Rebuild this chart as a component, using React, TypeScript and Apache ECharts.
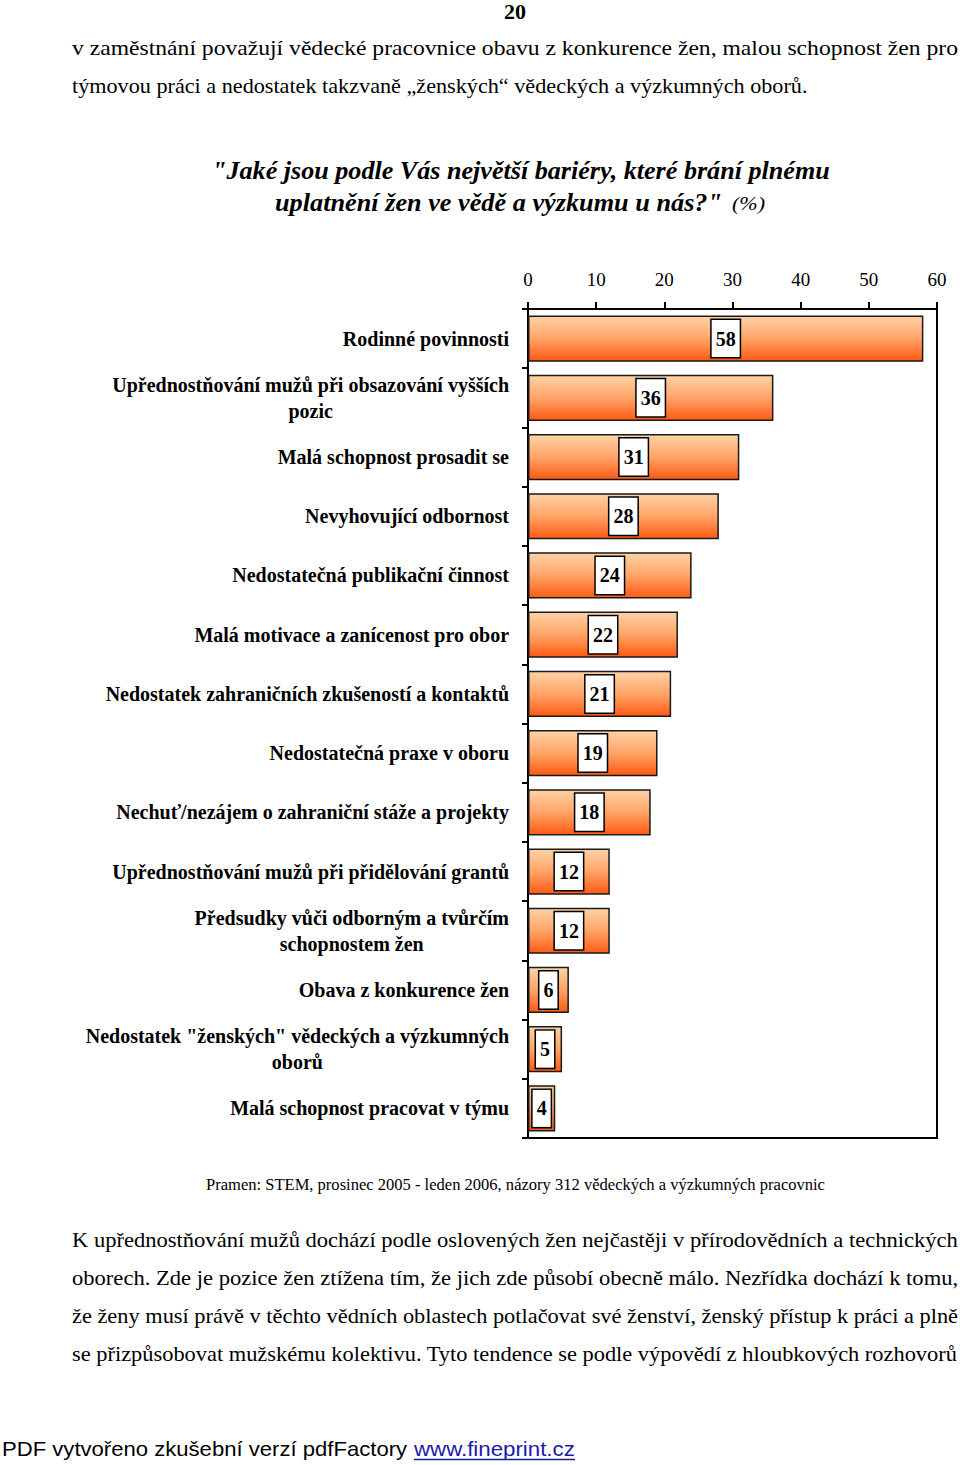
import React, { useEffect, useRef } from "react";
import * as echarts from "echarts";

const categories = [
  "Rodinné povinnosti",
  "Upřednostňování mužů při obsazování vyšších\npozic",
  "Malá schopnost prosadit se",
  "Nevyhovující odbornost",
  "Nedostatečná publikační činnost",
  "Malá motivace a zanícenost pro obor",
  "Nedostatek zahraničních zkušeností a kontaktů",
  "Nedostatečná praxe v oboru",
  "Nechuť/nezájem o zahraniční stáže a projekty",
  "Upřednostňování mužů při přidělování grantů",
  "Předsudky vůči odborným a tvůrčím\nschopnostem žen",
  "Obava z konkurence žen",
  "Nedostatek \"ženských\" vědeckých a výzkumných\noborů",
  "Malá schopnost pracovat v týmu",
];
const values = [58, 36, 31, 28, 24, 22, 21, 19, 18, 12, 12, 6, 5, 4];
const xTicks = [0, 10, 20, 30, 40, 50, 60];

const pageNumber = "20";
const introLines = [
  "v zaměstnání považují vědecké pracovnice obavu z konkurence žen, malou schopnost žen pro",
  "týmovou práci a nedostatek takzvaně „ženských“ vědeckých a výzkumných oborů.",
];
const titleLines = [
  "\"Jaké jsou podle Vás největší bariéry, které brání plnému",
  "uplatnění žen ve vědě a výzkumu u nás?\"",
];
const titleUnit = "(%)";
const sourceNote =
  "Pramen: STEM, prosinec 2005 - leden 2006, názory 312 vědeckých a výzkumných pracovnic";
const paragraphLines = [
  "K upřednostňování mužů dochází podle oslovených žen nejčastěji v přírodovědních a technických",
  "oborech. Zde je pozice žen ztížena tím, že jich zde působí obecně málo. Nezřídka dochází k tomu,",
  "že ženy musí právě v těchto vědních oblastech potlačovat své ženství, ženský přístup k práci a plně",
  "se přizpůsobovat mužskému kolektivu. Tyto tendence se podle výpovědí z hloubkových rozhovorů",
];
const footerText = "PDF vytvořeno zkušební verzí pdfFactory";
const footerLink = "www.fineprint.cz";

const SERIF = '"Liberation Serif", "Times New Roman", Times, serif';
const SANS = '"Liberation Sans", Arial, Helvetica, sans-serif';

let measureCtx: CanvasRenderingContext2D | null = null;
function measure(text: string, font: string): number {
  if (!measureCtx) {
    const c = document.createElement("canvas");
    measureCtx = c.getContext("2d");
  }
  if (!measureCtx) return 1;
  measureCtx.font = font;
  return measureCtx.measureText(text).width || 1;
}

type TOpts = {
  size: number;
  weight?: string;
  fstyle?: string;
  family?: string;
  width?: number;
  align?: "left" | "center" | "right";
  fill?: string;
};

function textEl(text: string, x: number, y: number, o: TOpts) {
  const font = `${o.fstyle || "normal"} ${o.weight || "normal"} ${o.size}px ${
    o.family || SERIF
  }`;
  let scaleX = 1;
  if (o.width) scaleX = o.width / measure(text, font);
  const align = o.align || "left";
  return {
    type: "text",
    x,
    y,
    scaleX,
    silent: true,
    style: {
      text,
      font,
      fill: o.fill || "#000",
      textAlign: align,
      align,
      textVerticalAlign: "middle",
      verticalAlign: "middle",
    },
  };
}

export default function App() {
  const ref = useRef<HTMLDivElement>(null);

  useEffect(() => {
    if (!ref.current) return;
    const chart = echarts.init(ref.current, null, { renderer: "svg" });

    const graphics: any[] = [];
    graphics.push(textEl(pageNumber, 515, 11, { size: 22, weight: "bold", align: "center" }));
    graphics.push(textEl(introLines[0], 72, 48, { size: 21, width: 886 }));
    graphics.push(textEl(introLines[1], 72, 86, { size: 21, width: 736 }));
    graphics.push(
      textEl(titleLines[0], 212, 171, { size: 26, weight: "bold", fstyle: "italic", width: 618 })
    );
    graphics.push(
      textEl(titleLines[1], 275, 203, { size: 26, weight: "bold", fstyle: "italic", width: 447 })
    );
    graphics.push(textEl(titleUnit, 732, 204, { size: 19, fstyle: "italic", width: 33 }));
    graphics.push(textEl(sourceNote, 206, 1184, { size: 17, width: 619 }));
    const paraY = [1240, 1278, 1316, 1354];
    paragraphLines.forEach((l, i) => {
      graphics.push(textEl(l, 72, paraY[i], { size: 21, width: 886 }));
    });
    graphics.push(textEl(footerText, 2, 1449, { size: 21, family: SANS, width: 405 }));
    graphics.push(
      textEl(footerLink, 414, 1449, { size: 21, family: SANS, width: 161, fill: "#1a1aa6" })
    );
    graphics.push({
      type: "line",
      silent: true,
      shape: { x1: 414, y1: 1459.5, x2: 575, y2: 1459.5 },
      style: { stroke: "#1a1aa6", lineWidth: 1.5 },
    });

    const barGradient = new echarts.graphic.LinearGradient(0, 0, 0, 1, [
      { offset: 0, color: "#FFD2A6" },
      { offset: 0.5, color: "#FFA468" },
      { offset: 1, color: "#FF5A12" },
    ]);

    chart.setOption({
      animation: false,
      backgroundColor: "#fff",
      grid: {
        left: 528,
        right: 23,
        top: 309,
        bottom: 327,
        show: true,
        borderColor: "#000",
        borderWidth: 2,
        backgroundColor: "transparent",
      },
      xAxis: {
        type: "value",
        position: "top",
        min: xTicks[0],
        max: xTicks[xTicks.length - 1],
        interval: xTicks[1] - xTicks[0],
        axisLine: { show: true, lineStyle: { color: "#000", width: 2 } },
        axisTick: { show: true, length: 7, lineStyle: { color: "#000", width: 2 } },
        splitLine: { show: false },
        axisLabel: {
          margin: 20,
          color: "#000",
          fontFamily: SERIF,
          fontSize: 19,
        },
      },
      yAxis: {
        type: "category",
        inverse: true,
        data: categories,
        axisLine: { show: true, lineStyle: { color: "#000", width: 2 } },
        axisTick: { show: true, length: 6, lineStyle: { color: "#000", width: 2 } },
        splitLine: { show: false },
        axisLabel: {
          margin: 19,
          color: "#000",
          fontFamily: SERIF,
          fontWeight: "bold",
          fontSize: 20,
          lineHeight: 26,
          formatter: (v: string) =>
            v
              .split("\n")
              .map((l) => `{c|${l}}`)
              .join("\n"),
          rich: {
            c: {
              align: "center",
              color: "#000",
              fontFamily: SERIF,
              fontWeight: "bold",
              fontSize: 20,
              lineHeight: 26,
            },
          },
        },
      },
      series: [
        {
          type: "bar",
          data: values,
          barCategoryGap: "22%",
          itemStyle: {
            color: barGradient,
            borderColor: "#1a1a1a",
            borderWidth: 1.5,
          },
          label: {
            show: true,
            position: "inside",
            formatter: "{c}",
            color: "#000",
            fontFamily: SERIF,
            fontWeight: "bold",
            fontSize: 20,
            lineHeight: 22,
            backgroundColor: "#fff",
            borderColor: "#000",
            borderWidth: 1.5,
            padding: [8, 4, 7, 4],
          },
        },
      ],
      graphic: { elements: graphics },
    });

    return () => chart.dispose();
  }, []);

  return (
    <div
      ref={ref}
      style={{ position: "absolute", left: 0, top: 0, width: 960, height: 1465 }}
    />
  );
}
